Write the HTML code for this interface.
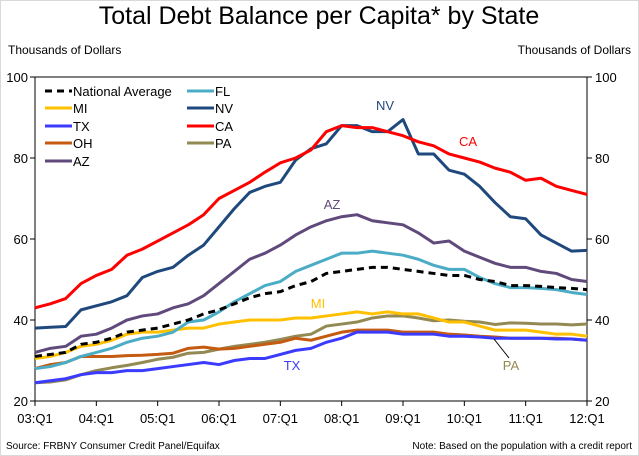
<!DOCTYPE html>
<html><head><meta charset="utf-8"><style>
body{margin:0;background:#fff;}
svg{display:block;font-family:"Liberation Sans",Arial,sans-serif;}
</style></head><body>
<svg id="c" width="639" height="456">
<rect x="0.5" y="0.5" width="638" height="455" fill="#fff" stroke="#d9d9d9"/>
<text x="319" y="24" font-size="25" text-anchor="middle">Total Debt Balance per Capita* by State</text>
<text x="8" y="54" font-size="12">Thousands of Dollars</text>
<text x="631" y="54" font-size="12" text-anchor="end">Thousands of Dollars</text>
<text x="6" y="449" font-size="10">Source: FRBNY Consumer Credit Panel/Equifax</text>
<text x="632" y="449" font-size="10" text-anchor="end">Note:  Based on the population with a credit report</text>
<g id="axes"></g>
<g id="series"></g>
<g id="legend"></g>
<g id="labels"></g>
</svg>
<script>
const xLabels=["03:Q1","04:Q1","05:Q1","06:Q1","07:Q1","08:Q1","09:Q1","10:Q1","11:Q1","12:Q1"];
const yTicks=[20,40,60,80,100];
const natAvg=[31,31.5,32,34,34.5,35.5,37,37.5,38,39,40,41.5,42.5,44,45.5,46.5,47,48.5,49.5,51.5,52,52.5,53,53,52.5,52,51.5,51,51,50,49.5,48.5,48.5,48.3,48,47.8,47.5];
const fl=[28,28.5,29.5,31,32,33,34.5,35.5,36,37,39.5,40,42,44.5,46.5,48.5,49.5,52,53.5,55,56.5,56.5,57,56.5,56,55,53.5,52.5,52.5,50.5,49,48,48,47.8,47.5,46.8,46.3];
const mi=[30.5,31,32,33.5,34,35,36.5,37,37,37.5,38,38,39,39.5,40,40,40,40.5,40.5,41,41.5,42,41.5,42,41.5,41.5,40.5,39.5,39.5,38.5,37.5,37.5,37.5,37,36.5,36.5,36];
const nv=[38,38.2,38.4,42.5,43.5,44.5,46,50.5,52,53,56,58.5,63,67.5,71.5,73,74,79.5,82.3,83.5,88,88,86.5,86.5,89.5,81,81,77,76,73,69,65.5,65,61,59,57,57.2];
const tx=[24.5,25,25.5,26.5,27,27,27.5,27.5,28,28.5,29,29.5,29,30,30.5,30.5,31.5,32.5,33,34.5,35.5,37,37,37,36.5,36.5,36.5,36,36,35.8,35.5,35.5,35.5,35.5,35.3,35.3,35];
const ca=[43,44,45.3,49,51,52.5,56,57.5,59.5,61.5,63.5,66,70,72,74,76.5,78.8,80,82,86.5,88,87.5,87.5,86.5,85.5,84,83,81,80,79,77.5,76.5,74.5,75,73,72,71];
const oh=[28,29,29.5,31,31,31,31.2,31.3,31.5,31.8,33,33.3,32.8,33,33.5,34,34.5,35.5,35,36,37,37.5,37.5,37.5,37,37,37,36.5,36.3,36,35.8,35.5,35.5,35.5,35.5,35.3,35];
const pa=[24.5,24.7,25.2,26.5,27.5,28.2,28.8,29.5,30.3,30.8,31.8,32,32.8,33.5,34,34.5,35.2,36,36.5,38.5,39,39.5,40.5,41,41,40.5,39.8,40,39.7,39.5,38.9,39.3,39.2,39,39,38.8,39];
const az=[32,33,33.5,36,36.5,38,40,41,41.5,43,44,46,49,52,55,56.5,58.5,61,63,64.5,65.5,66,64.5,64,63.5,61.5,59,59.5,57,55.5,54,53,53,52,51.5,50,49.5];

const NS="http://www.w3.org/2000/svg";
const X0=35,X1=587,Y0=401,Y1=77;
const xs=i=>X0+(X1-X0)*i/36;
const ys=v=>Y0-(v-20)/80*(Y0-Y1);
function mk(tag,attrs,parent){const e=document.createElementNS(NS,tag);for(const k in attrs)e.setAttribute(k,attrs[k]);parent.appendChild(e);return e;}
const axes=document.getElementById('axes');
const box=mk('rect',{x:X0,y:Y1,width:X1-X0,height:Y0-Y1,fill:'none',stroke:'#000','stroke-width':1},axes);


yTicks.forEach(v=>{
  const y=ys(v);
  const t1=mk('line',{x1:X0-5,x2:X0,y1:y,y2:y,stroke:'#000'},axes);
  
  
  const t2=mk('line',{x1:X1,x2:X1+5,y1:y,y2:y,stroke:'#000'},axes);
  
  
  const l=mk('text',{x:X0-7,y:y+5,'font-size':13,'text-anchor':'end'},axes);l.textContent=v;
  
  
  const r=mk('text',{x:X1+8,y:y+5,'font-size':13},axes);r.textContent=v;
  
  
});
xLabels.forEach((s,i)=>{
  const x=xs(i*4);
  const t=mk('line',{x1:x,x2:x,y1:Y0,y2:Y0+5,stroke:'#000'},axes);
  
  
  const l=mk('text',{x:x,y:Y0+22,'font-size':13,'text-anchor':'middle'},axes);l.textContent=s;
  
  
});
const seriesList=[
 ['pa',pa,'#938953',null],['oh',oh,'#c55a11',null],['tx',tx,'#3b3bff',null],['mi',mi,'#ffc000',null],
 ['fl',fl,'#4bacc6',null],['az',az,'#604a7b',null],['nv',nv,'#1f497d',null],['ca',ca,'#ff0000',null],
 ['national-average',natAvg,'#000','7,5']];
const sg=document.getElementById('series');
seriesList.forEach(([n,d,c,dash])=>{
  const p=mk('polyline',{points:d.map((v,i)=>xs(i)+','+ys(v)).join(' '),fill:'none',stroke:c,'stroke-width':3,'stroke-linejoin':'round'},sg);
  if(dash)p.setAttribute('stroke-dasharray',dash);
  
  
});
const lg=document.getElementById('legend');
const legendItems=[['National Average','#000',1,40,91],['FL','#4bacc6',0,182,91],['MI','#ffc000',0,40,108],['NV','#1f497d',0,182,108],['TX','#3b3bff',0,40,126],['CA','#ff0000',0,182,126],['OH','#c55a11',0,40,143],['PA','#938953',0,182,143],['AZ','#604a7b',0,40,161]];
legendItems.forEach(([t,c,d,x,y])=>{
  const g=mk('g',{},lg);
  
  
  const l=mk('line',{x1:x+5,x2:x+32,y1:y,y2:y,stroke:c,'stroke-width':3},g);
  if(d)l.setAttribute('stroke-dasharray','7,5');
  const tx_=mk('text',{x:x+33,y:y+5,'font-size':13},g);tx_.textContent=t;
});
const lb=document.getElementById('labels');
[['NV',385,110,'#1f497d'],['CA',468,146,'#ff0000'],['AZ',332,209,'#604a7b'],['MI',318,308,'#ffc000'],['TX',292,370,'#3b3bff'],['PA',511,370,'#938953']].forEach(([t,x,y,c])=>{
  const e=mk('text',{x:x,y:y,'font-size':13,fill:c,'text-anchor':'middle'},lb);e.textContent=t;
  
  
});
const ld=mk('line',{x1:494,y1:339,x2:509,y2:358,stroke:'#000','stroke-width':1},lb);


</script>
</body></html>
